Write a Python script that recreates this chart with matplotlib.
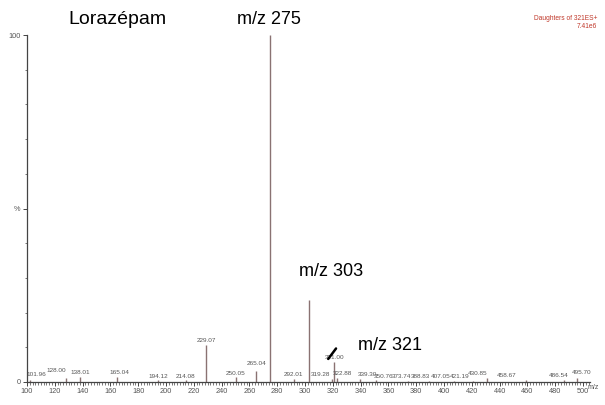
import matplotlib
matplotlib.use("Agg")
import matplotlib.pyplot as plt
from matplotlib.ticker import MultipleLocator

plt.rcParams['font.family'] = ['Liberation Sans', 'DejaVu Sans']

# Product-ion spectrum of lorazepam (precursor m/z 321)
mz = [101.96, 128.00, 138.01, 165.04, 194.12, 214.08, 229.07, 250.05, 265.04,
      275.00, 292.01, 303.00, 319.28, 321.00, 322.88, 339.30, 350.76, 373.74,
      388.83, 407.05, 421.19, 430.85, 458.67, 486.54, 495.70]
intensity = [0.6, 1.2, 1.5, 1.5, 0.5, 0.5, 10.7, 1.3, 3.2,
             100.0, 0.8, 23.6, 1.0, 5.8, 1.2, 1.0, 0.5, 0.4,
             0.4, 0.4, 0.4, 1.2, 0.6, 0.6, 1.2]
labels = ["101.96", "128.00", "138.01", "165.04", "194.12", "214.08", "229.07",
          "250.05", "265.04", "", "292.01", "", "319.28", "321.00", "322.88",
          "339.30", "350.76", "373.74", "388.83", "407.05", "421.19", "430.85",
          "458.67", "486.54", "495.70"]
# nudges for crowded labels (x in m/z units, y in % units)
label_dy = {"128.00": 1.0, "265.04": 0.8, "495.70": 0.3, "101.96": 0.3}
label_dx = {"101.96": 5.0, "128.00": -7.0, "165.04": 1.5, "319.28": -8.0,
            "322.88": 3.7, "339.30": 5.3, "350.76": 6.0, "373.74": -4.0,
            "388.83": -6.1, "407.05": -9.2, "421.19": -10.3, "430.85": -7.0,
            "458.67": -14.0, "486.54": -4.3, "495.70": 3.0}
small_font = ['Liberation Sans Narrow', 'Liberation Sans', 'DejaVu Sans']

fig = plt.figure(figsize=(6.05, 4.05), dpi=100)
ax = fig.add_axes([27 / 605, 23 / 405, 563 / 605, 347 / 405])

peak_color = "#8a7272"
ax.vlines(mz, 0, intensity, color=peak_color, lw=1.0)

for x, y, t in zip(mz, intensity, labels):
    if not t:
        continue
    ax.text(x + label_dx.get(t, 0), y + 0.5 + label_dy.get(t, 0), t,
            fontsize=4.6, color="#555555", ha="center", va="bottom",
            family=small_font)

ax.set_xlim(100, 505)
ax.set_ylim(0, 100)
ax.spines['top'].set_visible(False)
ax.spines['right'].set_visible(False)
for s in ("left", "bottom"):
    ax.spines[s].set_color("#444444")
    ax.spines[s].set_linewidth(0.9)

ax.set_xticks(range(100, 501, 20))
ax.xaxis.set_minor_locator(MultipleLocator(2))
ax.set_yticks([0, 50, 100])
ax.set_yticklabels(["0", "%", "100"])
ax.yaxis.set_minor_locator(MultipleLocator(10))
ax.tick_params(axis="both", which="major", labelsize=5.3, colors="#444444",
               length=3, width=0.7, pad=1.5)
ax.tick_params(axis="both", which="minor", length=1.8, width=0.5,
               colors="#444444")
for lab in ax.get_xticklabels() + ax.get_yticklabels():
    lab.set_color("#555555")

ax.text(503, -0.5, "m/z", fontsize=5, color="#555555", ha="left", va="top",
        clip_on=False)

# Header and annotations
fig.text(597 / 605, 1 - 19 / 405, "Daughters of 321ES+", fontsize=4.8,
         color="#c0392b", ha="right", va="center")
fig.text(597 / 605, 1 - 26 / 405, "7.41e6", fontsize=4.8,
         color="#c0392b", ha="right", va="center")
fig.text(68 / 605, 1 - 20 / 405, "Lorazépam", fontsize=14, color="black",
         ha="left", va="center")
fig.text(237 / 605, 1 - 20 / 405, "m/z 275", fontsize=13, color="black",
         ha="left", va="center")
fig.text(299 / 605, 1 - 272 / 405, "m/z 303", fontsize=13, color="black",
         ha="left", va="center")
fig.text(358 / 605, 1 - 345 / 405, "m/z 321", fontsize=13, color="black",
         ha="left", va="center")

ax.annotate("", xy=(315.5, 6.0), xytext=(323.5, 10.3),
            arrowprops=dict(arrowstyle="-", color="black", lw=1.8))

fig.savefig("out.png", dpi=100, facecolor="white")
